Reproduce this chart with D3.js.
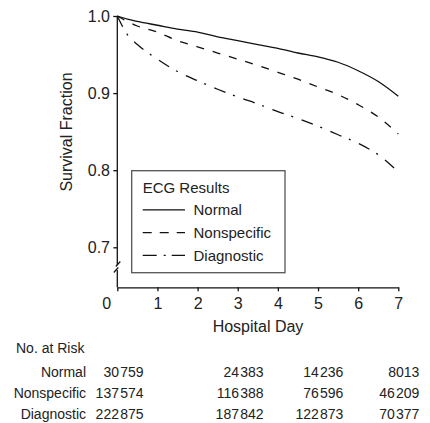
<!DOCTYPE html>
<html><head><meta charset="utf-8">
<script src="https://cdn.jsdelivr.net/npm/d3@7"></script>
<style>body{margin:0;background:#fff}svg{display:block;font-family:"Liberation Sans",Arial,sans-serif}</style>
</head><body><svg id="c" width="430" height="423"></svg>
<script>
const days = [0,0.25,0.5,1,1.5,2,2.5,3,3.5,4,4.5,5,5.5,6,6.5,7];
const normal =      [1.0,0.996,0.993,0.988,0.983,0.979,0.973,0.968,0.963,0.958,0.952,0.947,0.940,0.929,0.915,0.896];
const nonspecific = [1.0,0.993,0.987,0.979,0.968,0.960,0.952,0.944,0.936,0.927,0.918,0.908,0.898,0.885,0.869,0.847];
const diagnostic =  [1.0,0.976,0.963,0.944,0.928,0.916,0.905,0.895,0.886,0.876,0.867,0.857,0.846,0.835,0.820,0.798];
const seriesNames = ["Normal","Nonspecific","Diagnostic"];
const xTicks = [0,1,2,3,4,5,6,7];
const yTicks = [0.7,0.8,0.9,1.0];
const riskNormal = [30759,24383,14236,8013];
const riskNonspecific = [137574,116388,76596,46209];
const riskDiagnostic = [222875,187842,122873,70377];

const svg = d3.select("#c");
const ink = "#222";
const x = d3.scaleLinear().domain([0,7]).range([117.3,398.3]);
const y = d3.scaleLinear().domain([0.7,1.0]).range([247.3,16]);
const axisY = 287.3;

// x axis
const gx = svg.append("g").attr("transform",`translate(0,${axisY})`)
  .call(d3.axisBottom(x).tickValues(xTicks).tickFormat(d3.format("d")).tickSize(4).tickSizeOuter(0).tickPadding(6));
gx.selectAll("text").attr("font-size",16).attr("font-family","Liberation Sans, Arial, sans-serif").attr("fill",ink)
  .filter(d=>d===0).attr("dx",-11);
gx.selectAll("line,path").attr("stroke","#111").attr("stroke-width",1.3);

// y axis
const gy = svg.append("g").attr("transform",`translate(${x(0)},0)`)
  .call(d3.axisLeft(y).tickValues(yTicks).tickFormat(d3.format(".1f")).tickSize(4).tickPadding(3.3));
gy.select(".domain").remove();
gy.selectAll("text").attr("font-size",16).attr("font-family","Liberation Sans, Arial, sans-serif").attr("fill",ink);
gy.selectAll("line").attr("stroke","#111").attr("stroke-width",1.3);
// axis line with break
svg.append("line").attr("x1",x(0)).attr("x2",x(0)).attr("y1",y(1.0)).attr("y2",265).attr("stroke","#111").attr("stroke-width",1.3);
svg.append("line").attr("x1",x(0)).attr("x2",x(0)).attr("y1",270).attr("y2",axisY).attr("stroke","#111").attr("stroke-width",1.3);
svg.append("line").attr("x1",x(0)-1.5).attr("y1",266.5).attr("x2",x(0)+3).attr("y2",261.5).attr("stroke","#111").attr("stroke-width",1.2);
svg.append("line").attr("x1",x(0)-3.5).attr("y1",272.5).attr("x2",x(0)+1).attr("y2",267.5).attr("stroke","#111").attr("stroke-width",1.2);

// titles
svg.append("text").attr("x",258).attr("y",331.5).attr("text-anchor","middle").attr("font-size",16).attr("fill",ink).text("Hospital Day");
svg.append("text").attr("transform","translate(71.5,132) rotate(-90)").attr("text-anchor","middle").attr("font-size",16).attr("fill",ink).text("Survival Fraction");

// curves
const styles = [null,"8,9","12,8,2,9"];
const data = [normal,nonspecific,diagnostic];
const line = d3.line().x((d,i)=>x(days[i])).y(d=>y(d)).curve(d3.curveMonotoneX);
data.forEach((s,k)=>{
  svg.append("path").attr("d",line(s)).attr("fill","none").attr("stroke","#111").attr("stroke-width",1.3)
    .attr("stroke-dasharray",styles[k]);
});

// legend
svg.append("rect").attr("x",131.7).attr("y",170.7).attr("width",153.3).attr("height",102)
  .attr("fill","#fff").attr("stroke","#555").attr("stroke-width",1.3);
svg.append("text").attr("x",142.7).attr("y",193.3).attr("font-size",15).attr("fill",ink).text("ECG Results");
const legDash = [null,"9,8","14,7,2,6,14"];
const legY = [215,237.8,260.6];
seriesNames.forEach((n,k)=>{
  svg.append("line").attr("x1",142.7).attr("x2",185).attr("y1",legY[k]-5.2).attr("y2",legY[k]-5.2)
    .attr("stroke","#111").attr("stroke-width",1.3).attr("stroke-dasharray",legDash[k]);
  svg.append("text").attr("x",193.5).attr("y",legY[k]).attr("font-size",15).attr("fill",ink).text(n);
});

// risk table
const fmt = v => v>=10000 ? d3.format(",")(v).replace(/,/g,"\u200A") : String(v);
svg.append("text").attr("x",16).attr("y",353).attr("font-size",14).attr("fill",ink).text("No. at Risk");
const colRight = [143.5,263.5,343.3,419.3];
const rows = [riskNormal,riskNonspecific,riskDiagnostic];
const rowY = [376.7,398.2,419];
seriesNames.forEach((n,k)=>{
  svg.append("text").attr("x",86).attr("y",rowY[k]).attr("text-anchor","end").attr("font-size",14).attr("fill",ink).text(n);
  rows[k].forEach((v,j)=>{
    svg.append("text").attr("x",colRight[j]).attr("y",rowY[k]).attr("text-anchor","end").attr("font-size",14).attr("fill",ink).text(fmt(v));
  });
});
</script></body></html>
